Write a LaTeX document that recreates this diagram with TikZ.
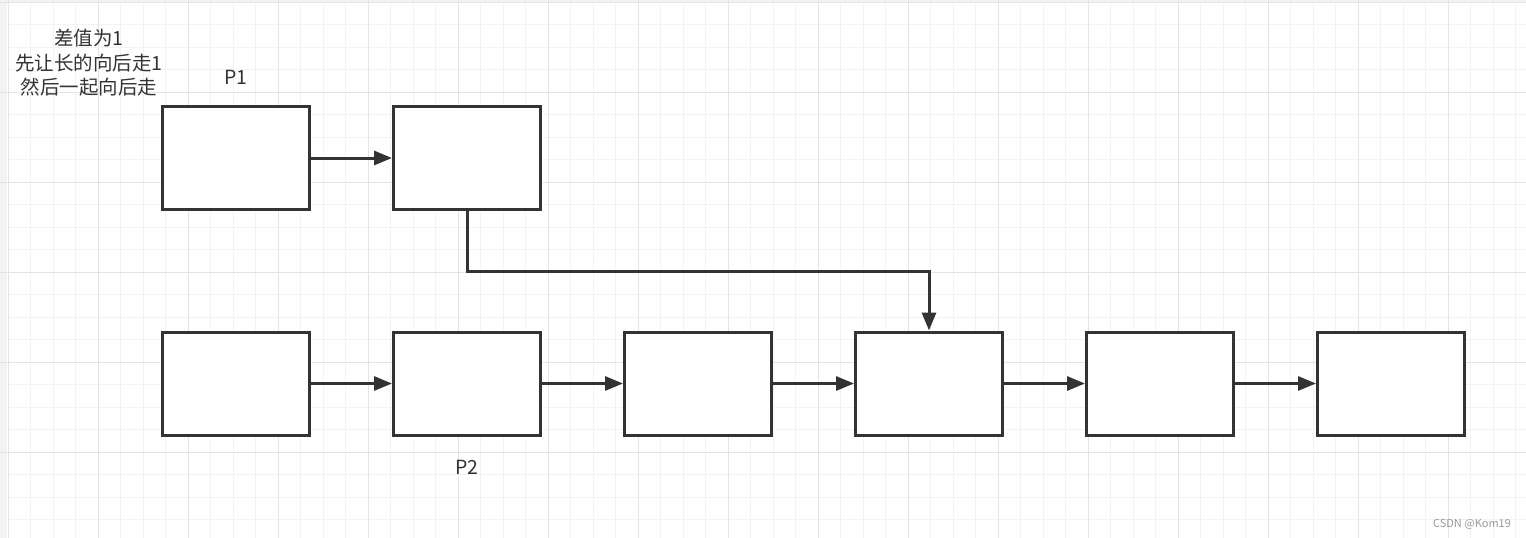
\documentclass[tikz,border=0pt]{standalone}
\usepackage{fontspec}
\setmainfont{Noto Sans CJK SC}
\usetikzlibrary{positioning,arrows.meta}
\definecolor{ink}{HTML}{333333}
\definecolor{minor}{HTML}{F3F3F3}
\definecolor{major}{HTML}{E4E4E4}
\begin{document}
\begin{tikzpicture}[x=1pt,y=-1pt,node distance=81pt,
  box/.style={draw=ink,line width=3pt,fill=white,minimum width=147pt,minimum height=103pt},
  link/.style={draw=ink,line width=3pt,-{Triangle[length=18pt,width=14pt]}},
  lbl/.style={text=ink,font=\fontsize{19.5}{24.5}\selectfont}]
\useasboundingbox (0,0) rectangle (1526,538);
\fill[white] (0,0) rectangle (1526,538);
\fill[minor] (0,0) rectangle (7,538);
\fill[minor] (0,0) rectangle (1526,2);
\foreach \gx in {8,30.5,...,1526} \draw[minor,line width=1pt] (\gx,0) -- (\gx,538);
\foreach \gy in {2,24.5,...,538} \draw[minor,line width=1pt] (0,\gy) -- (1526,\gy);
\foreach \gx in {8,98,...,1526} \draw[major,line width=1pt] (\gx,0) -- (\gx,538);
\foreach \gy in {2,92,...,538} \draw[major,line width=1pt] (0,\gy) -- (1526,\gy);
\node[box] (a) at (236,158) {};
\node[box,right=of a] (b) {};
\node[box,below=119.5pt of a] (c) {};
\node[box,right=of c] (d) {};
\node[box,right=of d] (e) {};
\node[box,right=of e] (f) {};
\node[box,right=of f] (g) {};
\node[box,right=of g] (h) {};
\node[lbl,align=center] (note) at (89,63) {差值为1\\先让长的向后走1\\然后一起向后走};
\node[lbl] (p1) at (236,77.5) {P1};
\node[lbl] (p2) at (467,467) {P2};
\node[text=gray!80,font=\fontsize{11}{13}\selectfont] (mark) at (1472,524) {CSDN @Kom19};
\foreach \u/\v in {a/b,c/d,d/e,e/f,f/g,g/h}
  \draw[link] (\u) -- (\v);
\coordinate (bend) at (0,271);
\draw[link] (b.south) -- (b.south |- bend) -| (f.north);
\end{tikzpicture}
\end{document}
